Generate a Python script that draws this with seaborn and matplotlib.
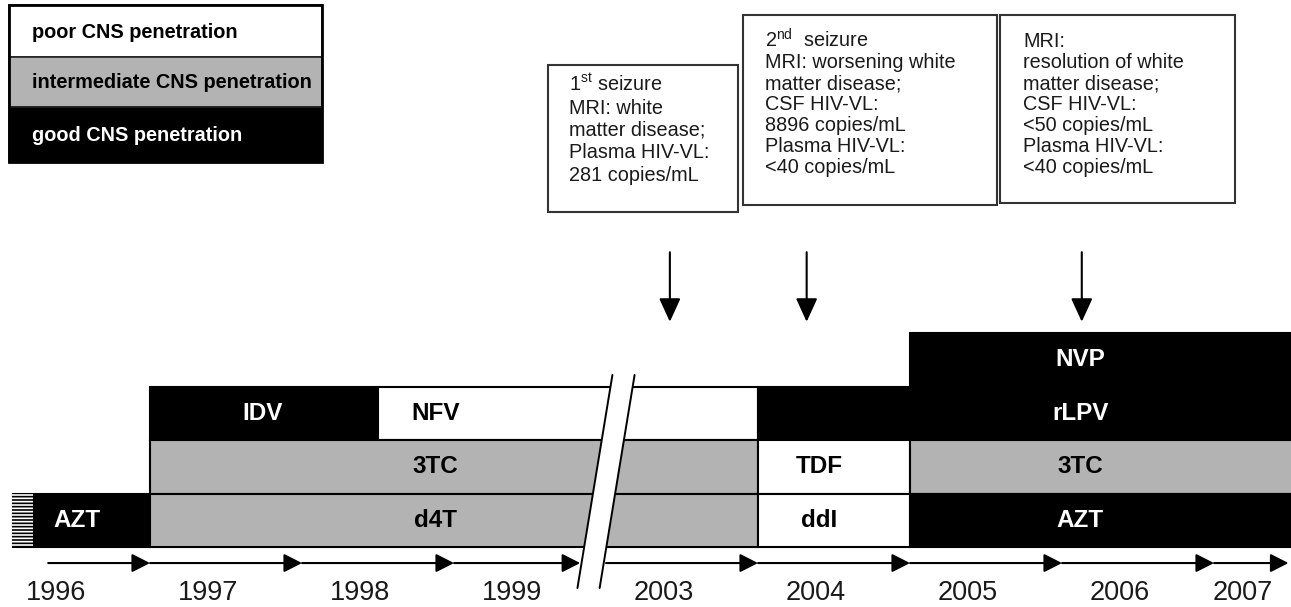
import numpy as np
import pandas as pd
import matplotlib
matplotlib.use("Agg")
import matplotlib.pyplot as plt
import seaborn as sns
from matplotlib.patches import Rectangle, Polygon

# regimen bars, rows counted upwards from the timeline
drugs = ["AZT", "IDV", "NFV", "3TC", "d4T", "", "TDF", "ddI", "NVP", "rLPV", "3TC", "AZT"]
start = [1996.1, 1997.0, 1998.5, 1997.0, 1997.0, 2004.0, 2004.0, 2004.0, 2005.0, 2005.0, 2005.0, 2005.0]
stop = [1997.0, 1998.5, 2004.0, 2004.0, 2004.0, 2005.0, 2005.0, 2005.0, 2007.6, 2007.6, 2007.6, 2007.6]
row = [1, 3, 3, 2, 1, 3, 2, 1, 4, 3, 2, 1]
cns = ["good", "good", "poor", "intermediate", "intermediate", "good",
       "poor", "poor", "good", "good", "intermediate", "good"]
label_at = [1996.52, 1997.74, 1998.88, 1998.88, 1998.88, np.nan,
            2004.4, 2004.4, 2006.12, 2006.12, 2006.12, 2006.12]

years = [1996, 1997, 1998, 1999, 2003, 2004, 2005, 2006, 2007]
timeline_start = 1996.33
timeline_end = 2007.49
gap_years = (2000, 2003)   # years cut out by the axis break

seizure_at = [2003.42, 2004.32, 2006.13]
event_notes = [
    ["1$^{\\mathrm{st}}$ seizure", "MRI: white", "matter disease;",
     "Plasma HIV-VL:", "281 copies/mL"],
    ["2$^{\\mathrm{nd}}$  seizure", "MRI: worsening white", "matter disease;",
     "CSF HIV-VL:", "8896 copies/mL", "Plasma HIV-VL:", "<40 copies/mL"],
    ["MRI:", "resolution of white", "matter disease;", "CSF HIV-VL:",
     "<50 copies/mL", "Plasma HIV-VL:", "<40 copies/mL"],
]
legend_levels = ["poor", "intermediate", "good"]
legend_labels = ["poor CNS penetration", "intermediate CNS penetration", "good CNS penetration"]

sns.set_theme(style="white")
plt.rcParams["font.family"] = ["Liberation Sans", "DejaVu Sans"]
plt.rcParams["mathtext.fontset"] = "custom"
plt.rcParams["mathtext.rm"] = "Liberation Sans"
plt.rcParams["hatch.linewidth"] = 1.2

pal = dict(zip(legend_levels, sns.color_palette(["#ffffff", "#b3b3b3", "#000000"])))
txt_col = {"poor": "black", "intermediate": "black", "good": "white"}


def tx(y):
    # squeeze out the break years
    y = np.asarray(y, dtype=float)
    return np.where(y < gap_years[0], y, y - (gap_years[1] - gap_years[0]))


df = pd.DataFrame({"drug": drugs, "start": start, "stop": stop, "row": row,
                   "cns": cns, "label_at": label_at})
df["x0"] = tx(df["start"])
df["x1"] = tx(df["stop"])

fig = plt.figure(figsize=(12.91, 6.07), dpi=100)
ax = fig.add_axes([0, 0, 1, 1])
ax.set_xlim(1996.013, 1996.013 + 1291 / 152)
ax.set_ylim(-60 / 53.5, 547 / 53.5)
ax.axis("off")

# regimen bars
ax.barh(df["row"] - 1, df["x1"] - df["x0"], left=df["x0"], height=1, align="edge",
        color=[pal[c] for c in df["cns"]], edgecolor="black", linewidth=1.5, zorder=2)
for _, r in df.iterrows():
    if r["drug"]:
        ax.text(float(tx(r["label_at"])), r["row"] - 0.5, r["drug"], ha="center", va="center",
                fontsize=17.5, fontweight="bold", color=txt_col[r["cns"]], zorder=3)

# striped tail: AZT started before 1996
first = df.iloc[0]
ax.add_patch(Rectangle((first["x0"] - 0.01, first["row"] - 1), 0.14, 1, facecolor="black",
                       edgecolor="white", hatch="-----", linewidth=0, zorder=2.5))

# timeline with arrow heads at each year
ty = -0.3
stops = [timeline_start] + [float(tx(y)) for y in years[1:4]] + [1999.83]
stops2 = [2000.0] + [float(tx(y)) for y in years[5:]] + [float(tx(timeline_end))]
for seg in (stops, stops2):
    for a, b in zip(seg[:-1], seg[1:]):
        ax.annotate("", xy=(b, ty), xytext=(a, ty),
                    arrowprops=dict(arrowstyle="-|>,head_length=0.55,head_width=0.28",
                                    mutation_scale=20, lw=1.5, color="black",
                                    shrinkA=0, shrinkB=0), zorder=3)

for y in years:
    xl = min(float(tx(y)) + 0.38, float(tx(timeline_end)) - 0.3)
    ax.text(xl, -33 / 53.5, str(y), ha="center", va="top", fontsize=19.5, color="#1a1a1a")

# axis break
yb_top, yb_bot = 3.215, -0.766
half, slant = 0.073, 0.115
band = [(2000 + slant - half, yb_top), (2000 + slant + half, yb_top),
        (2000 - slant + half, yb_bot), (2000 - slant - half, yb_bot)]
ax.add_patch(Polygon(band, closed=True, facecolor="white", edgecolor="none", zorder=4))
for s in (-half, half):
    ax.plot([2000 + slant + s, 2000 - slant + s], [yb_top, yb_bot], color="black", lw=1.4, zorder=5)

# seizure arrows
for e in seizure_at:
    ax.annotate("", xy=(float(tx(e)), 4.21), xytext=(float(tx(e)), 5.51),
                arrowprops=dict(arrowstyle="-|>,head_length=0.72,head_width=0.33",
                                mutation_scale=20, lw=1.5, color="black",
                                shrinkA=0, shrinkB=0))

# overlay in pixel units for the legend and note boxes
ov = fig.add_axes([0, 0, 1, 1])
ov.set_xlim(0, 1291)
ov.set_ylim(607, 0)
ov.axis("off")
ov.patch.set_alpha(0)

row_edges = [5, 57, 107, 162]
for i, (lvl, lab) in enumerate(zip(legend_levels, legend_labels)):
    y0, y1 = row_edges[i], row_edges[i + 1]
    ov.add_patch(Rectangle((9, y0), 313, y1 - y0, facecolor=pal[lvl], edgecolor="#222222", lw=1.2))
    ov.text(32, (y0 + y1) / 2 + 1, lab, ha="left", va="center", fontsize=14.3,
            fontweight="bold", color=txt_col[lvl])
ov.add_patch(Rectangle((9, 5), 313, 157, facecolor="none", edgecolor="black", lw=2))

boxes = [(548, 65, 190, 147, 569, 91, 22.5),
         (743, 15, 254, 190, 765, 47, 21),
         (1000, 15, 235, 188, 1023, 47, 21)]
for (bx, by, bw, bh, tx0, base, step), lines in zip(boxes, event_notes):
    ov.add_patch(Rectangle((bx, by), bw, bh, facecolor="white", edgecolor="#333333", lw=1.5))
    for k, line in enumerate(lines):
        ov.text(tx0, base + k * step, line, ha="left", va="baseline", fontsize=14.3, color="#1a1a1a")

fig.savefig("out.png", dpi=100)
